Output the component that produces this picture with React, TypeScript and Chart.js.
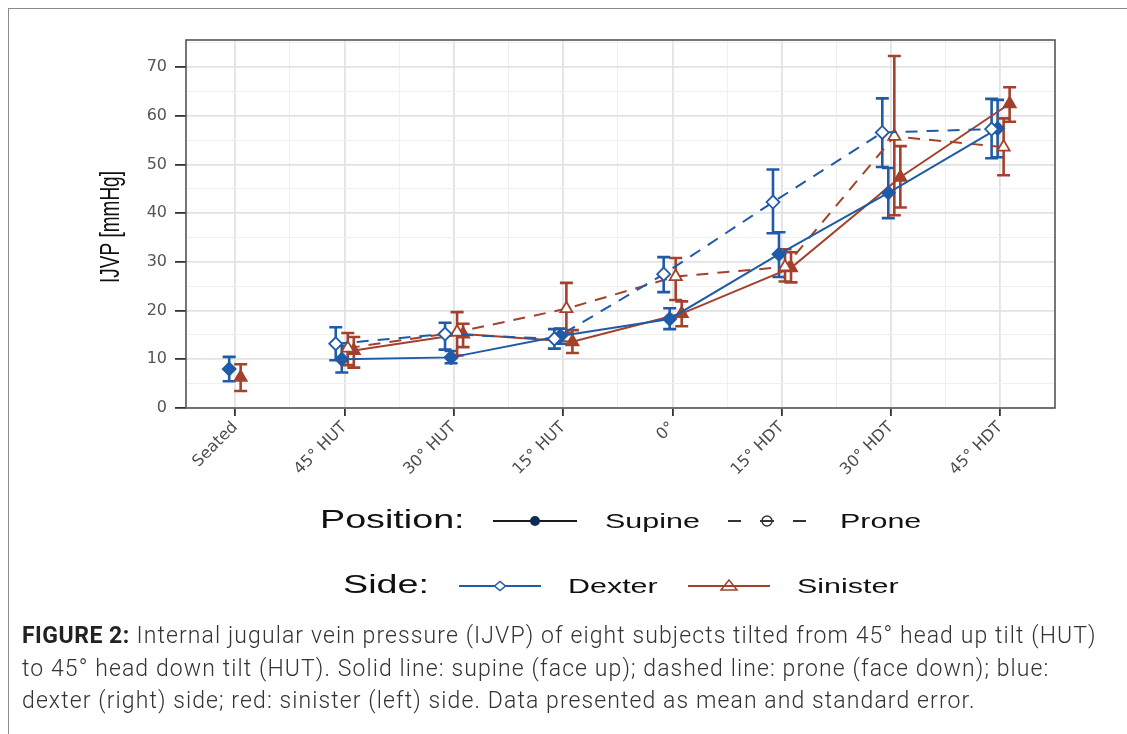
import React, { useEffect, useRef } from 'react';
import { Chart, registerables } from 'chart.js';

Chart.register(...registerables);

// ---------- data ----------
const categories = ['Seated', '45° HUT', '30° HUT', '15° HUT', '0°', '15° HDT', '30° HDT', '45° HDT'];

const supineDexter = [8.0, 10.0, 10.4, 14.8, 18.3, 31.6, 44.2, 57.4];
const supineDexterLo = [5.5, 7.3, 9.2, 13.2, 16.2, 26.9, 39.0, 51.5];
const supineDexterHi = [10.5, 12.8, 11.7, 16.3, 20.5, 36.1, 49.3, 63.3];

const proneDexter = [null, 13.2, 15.2, 14.2, 27.5, 42.3, 56.6, 57.3];
const proneDexterLo = [null, 9.8, 12.0, 12.2, 23.8, 35.9, 49.5, 51.3];
const proneDexterHi = [null, 16.6, 17.5, 16.2, 31.0, 49.0, 63.6, 63.5];

const supineSinister = [6.3, 11.8, 15.2, 13.6, 19.4, 28.8, 47.4, 62.5];
const supineSinisterLo = [3.5, 8.3, 12.5, 11.3, 16.8, 25.8, 41.2, 58.8];
const supineSinisterHi = [9.0, 14.6, 17.3, 16.0, 21.9, 32.0, 53.8, 65.9];

const proneSinister = [null, 12.3, 15.6, 20.4, 27.0, 29.0, 55.8, 53.6];
const proneSinisterLo = [null, 8.8, 10.8, 15.4, 22.2, 26.0, 39.6, 47.8];
const proneSinisterHi = [null, 15.4, 19.7, 25.7, 30.8, 32.6, 72.3, 59.5];

const yTickValues = [0, 5, 10, 15, 20, 25, 30, 35, 40, 45, 50, 55, 60, 65, 70, 75];
const xTickValues = [0, 0.5, 1, 1.5, 2, 2.5, 3, 3.5, 4, 4.5, 5, 5.5, 6, 6.5, 7];

// ---------- styles ----------
const BLUE = '#1f5ba6';
const RED = '#a3412c';

type Series = {
  label: string;
  mean: (number | null)[];
  lo: (number | null)[];
  hi: (number | null)[];
  color: string;
  dashed: boolean;
  filled: boolean;
  shape: 'rectRot' | 'triangle';
  offset: number;
  seatedOffset: number;
};

const series: Series[] = [
  { label: 'Prone Dexter', mean: proneDexter, lo: proneDexterLo, hi: proneDexterHi, color: BLUE, dashed: true, filled: false, shape: 'rectRot', offset: -0.08, seatedOffset: -0.055 },
  { label: 'Supine Dexter', mean: supineDexter, lo: supineDexterLo, hi: supineDexterHi, color: BLUE, dashed: false, filled: true, shape: 'rectRot', offset: -0.025, seatedOffset: -0.055 },
  { label: 'Prone Sinister', mean: proneSinister, lo: proneSinisterLo, hi: proneSinisterHi, color: RED, dashed: true, filled: false, shape: 'triangle', offset: 0.03, seatedOffset: 0.05 },
  { label: 'Supine Sinister', mean: supineSinister, lo: supineSinisterLo, hi: supineSinisterHi, color: RED, dashed: false, filled: true, shape: 'triangle', offset: 0.085, seatedOffset: 0.05 },
];

const xOf = (s: Series, i: number) => i + (i === 0 ? s.seatedOffset : s.offset);

// page coords -> canvas coords (canvas sits at page 8,8)
const P = (v: number) => v - 8;

const stretchText = (
  ctx: CanvasRenderingContext2D,
  text: string,
  x: number,
  y: number,
  size: number,
  sx: number,
) => {
  ctx.save();
  ctx.translate(x, y);
  ctx.scale(sx, 1);
  ctx.font = `${size}px "Liberation Sans", Arial, sans-serif`;
  ctx.textBaseline = 'middle';
  ctx.textAlign = 'left';
  ctx.fillStyle = '#111111';
  ctx.fillText(text, 0, 0);
  ctx.restore();
};

const errorBarPlugin = {
  id: 'errorBars',
  beforeDatasetsDraw(chart: any) {
    const ctx: CanvasRenderingContext2D = chart.ctx;
    const xs = chart.scales.x;
    const ys = chart.scales.y;
    ctx.save();
    series.forEach((s) => {
      ctx.strokeStyle = s.color;
      ctx.lineWidth = 2.6;
      ctx.setLineDash([]);
      s.mean.forEach((m, i) => {
        const lo = s.lo[i];
        const hi = s.hi[i];
        if (m == null || lo == null || hi == null) return;
        const px = xs.getPixelForValue(xOf(s, i));
        const pLo = ys.getPixelForValue(lo);
        const pHi = ys.getPixelForValue(hi);
        const hw = 6.5;
        ctx.beginPath();
        ctx.moveTo(px, pLo);
        ctx.lineTo(px, pHi);
        ctx.moveTo(px - hw, pLo);
        ctx.lineTo(px + hw, pLo);
        ctx.moveTo(px - hw, pHi);
        ctx.lineTo(px + hw, pHi);
        ctx.stroke();
      });
    });
    ctx.restore();
  },
};

const decorPlugin = {
  id: 'decor',
  afterDraw(chart: any) {
    const ctx: CanvasRenderingContext2D = chart.ctx;
    const a = chart.chartArea;
    ctx.save();
    // panel border
    ctx.strokeStyle = '#555555';
    ctx.lineWidth = 1.6;
    ctx.setLineDash([]);
    ctx.strokeRect(a.left, a.top, a.right - a.left, a.bottom - a.top);

    // y axis title
    ctx.save();
    ctx.translate(P(111), P(227));
    ctx.scale(1.45, 1);
    ctx.rotate(-Math.PI / 2);
    ctx.font = '19px "Liberation Sans", Arial, sans-serif';
    ctx.textAlign = 'center';
    ctx.textBaseline = 'middle';
    ctx.fillStyle = '#111111';
    ctx.fillText('IJVP [mmHg]', 0, 0);
    ctx.restore();

    // ---- legend row 1: Position ----
    const r1 = P(521);
    stretchText(ctx, 'Position:', P(320), r1, 26, 1.45);
    // Supine key
    ctx.strokeStyle = '#1a1a1a';
    ctx.lineWidth = 2;
    ctx.beginPath();
    ctx.moveTo(P(493), r1);
    ctx.lineTo(P(577), r1);
    ctx.stroke();
    ctx.fillStyle = '#0c2c52';
    ctx.beginPath();
    ctx.arc(P(535), r1, 5, 0, Math.PI * 2);
    ctx.fill();
    stretchText(ctx, 'Supine', P(605), r1 + 1, 21, 1.45);
    // Prone key
    ctx.strokeStyle = '#333333';
    ctx.lineWidth = 2;
    ctx.beginPath();
    ctx.moveTo(P(728), r1);
    ctx.lineTo(P(741), r1);
    ctx.moveTo(P(760), r1);
    ctx.lineTo(P(774), r1);
    ctx.moveTo(P(793), r1);
    ctx.lineTo(P(806), r1);
    ctx.stroke();
    ctx.lineWidth = 1.4;
    ctx.beginPath();
    ctx.arc(P(767), r1, 5, 0, Math.PI * 2);
    ctx.stroke();
    stretchText(ctx, 'Prone', P(840), r1 + 1, 21, 1.45);

    // ---- legend row 2: Side ----
    const r2 = P(586);
    stretchText(ctx, 'Side:', P(343), r2, 26, 1.45);
    // Dexter key
    ctx.strokeStyle = BLUE;
    ctx.lineWidth = 2;
    ctx.beginPath();
    ctx.moveTo(P(459), r2);
    ctx.lineTo(P(541), r2);
    ctx.stroke();
    ctx.fillStyle = '#ffffff';
    ctx.lineWidth = 1.5;
    ctx.beginPath();
    ctx.moveTo(P(500) - 5.5, r2);
    ctx.lineTo(P(500), r2 - 4.5);
    ctx.lineTo(P(500) + 5.5, r2);
    ctx.lineTo(P(500), r2 + 4.5);
    ctx.closePath();
    ctx.fill();
    ctx.stroke();
    stretchText(ctx, 'Dexter', P(568), r2 + 1, 21, 1.45);
    // Sinister key
    ctx.strokeStyle = RED;
    ctx.lineWidth = 2;
    ctx.beginPath();
    ctx.moveTo(P(688), r2);
    ctx.lineTo(P(770), r2);
    ctx.stroke();
    ctx.lineWidth = 1.5;
    ctx.beginPath();
    ctx.moveTo(P(729) - 8, r2 + 4);
    ctx.lineTo(P(729), r2 - 6);
    ctx.lineTo(P(729) + 8, r2 + 4);
    ctx.closePath();
    ctx.stroke();
    stretchText(ctx, 'Sinister', P(797), r2 + 1, 21, 1.45);

    ctx.restore();
  },
};

export default function App() {
  const canvasRef = useRef<HTMLCanvasElement | null>(null);

  useEffect(() => {
    if (!canvasRef.current) return;
    const datasets = series.map((s) => ({
      label: s.label,
      data: s.mean.map((m, i) => ({ x: xOf(s, i), y: m })),
      borderColor: s.color,
      backgroundColor: s.filled ? s.color : '#ffffff',
      borderWidth: 2,
      borderDash: s.dashed ? [12, 9] : [],
      pointStyle: s.shape,
      pointRadius: s.shape === 'rectRot' ? 6.5 : 7,
      pointBorderWidth: 1.8,
      pointBorderColor: s.color,
      pointBackgroundColor: s.filled ? s.color : '#ffffff',
      spanGaps: false,
      tension: 0,
      segment: {
        borderColor: (c: any) => (c.p0DataIndex === 0 ? 'rgba(0,0,0,0)' : s.color),
      },
    }));

    const majorY = (v: number) => v % 10 === 0;
    const majorX = (v: number) => Number.isInteger(v);

    const chart = new Chart(canvasRef.current, {
      type: 'line',
      data: { datasets },
      plugins: [errorBarPlugin, decorPlugin],
      options: {
        animation: false,
        responsive: false,
        maintainAspectRatio: false,
        layout: { padding: { left: 0, top: P(40), right: 1111 - P(1055), bottom: 0 } },
        plugins: {
          legend: { display: false },
          tooltip: { enabled: false },
          title: { display: false },
        },
        scales: {
          x: {
            type: 'linear',
            min: -0.45,
            max: 7.5,
            afterBuildTicks: (s: any) => {
              s.ticks = xTickValues.map((v) => ({ value: v }));
            },
            afterFit: (s: any) => {
              s.height = 600 - P(408);
              s.paddingLeft = 0;
              s.paddingRight = 0;
            },
            border: { display: false },
            grid: {
              color: (c: any) => (c.tick && majorX(c.tick.value) ? '#e2e2e2' : '#f0f0f0'),
              lineWidth: (c: any) => (c.tick && majorX(c.tick.value) ? 1.8 : 1),
              tickColor: (c: any) => (c.tick && majorX(c.tick.value) ? '#333333' : 'rgba(0,0,0,0)'),
              tickLength: 8,
              tickWidth: 1.8,
              drawTicks: true,
            },
            ticks: {
              autoSkip: false,
              minRotation: 45,
              maxRotation: 45,
              padding: 2,
              color: '#4d4d4d',
              font: { family: '"DejaVu Sans", sans-serif', size: 16 },
              callback: (v: any) => (Number.isInteger(v) ? categories[v] : ''),
            },
          },
          y: {
            type: 'linear',
            min: 0,
            max: 75.6,
            afterBuildTicks: (s: any) => {
              s.ticks = yTickValues.map((v) => ({ value: v }));
            },
            afterFit: (s: any) => {
              s.width = P(186);
              s.paddingTop = 0;
              s.paddingBottom = 0;
            },
            border: { display: false },
            grid: {
              color: (c: any) => (c.tick && majorY(c.tick.value) ? '#e2e2e2' : '#f0f0f0'),
              lineWidth: (c: any) => (c.tick && majorY(c.tick.value) ? 1.8 : 1),
              tickColor: (c: any) => (c.tick && majorY(c.tick.value) ? '#333333' : 'rgba(0,0,0,0)'),
              tickLength: 11,
              tickWidth: 1.8,
              drawTicks: true,
            },
            ticks: {
              autoSkip: false,
              padding: 8,
              color: '#555555',
              font: { family: '"DejaVu Sans", sans-serif', size: 16 },
              callback: (v: any) => (v % 10 === 0 && v <= 70 ? String(v) : ''),
            },
          },
        },
      },
    } as any);

    return () => chart.destroy();
  }, []);

  return (
    <>
      <div
        style={{
          position: 'fixed',
          left: 8,
          top: 8,
          width: 1119,
          height: 726,
          borderTop: '1px solid #8a8a8a',
          borderLeft: '1px solid #8a8a8a',
          boxSizing: 'border-box',
          pointerEvents: 'none',
        }}
      />
      <div style={{ position: 'relative', width: 1111, height: 718 }}>
        <canvas
          ref={canvasRef}
          width={1111}
          height={600}
          style={{ position: 'absolute', left: 0, top: 0, width: 1111, height: 600 }}
        />
        <div
          style={{
            position: 'absolute',
            left: 14,
            top: 612,
            fontFamily: 'Roboto, "Open Sans", sans-serif',
            fontWeight: 300,
            fontSize: 23,
            letterSpacing: '1.1px',
            lineHeight: '32.5px',
            color: '#333333',
            whiteSpace: 'nowrap',
          }}
        >
          <span style={{ fontWeight: 700, color: '#222222', letterSpacing: '0.5px' }}>FIGURE 2:</span> Internal jugular vein pressure (IJVP) of eight subjects tilted from 45° head up tilt (HUT)
          <br />
          to 45° head down tilt (HUT). Solid line: supine (face up); dashed line: prone (face down); blue:
          <br />
          dexter (right) side; red: sinister (left) side. Data presented as mean and standard error.
        </div>
      </div>
    </>
  );
}
